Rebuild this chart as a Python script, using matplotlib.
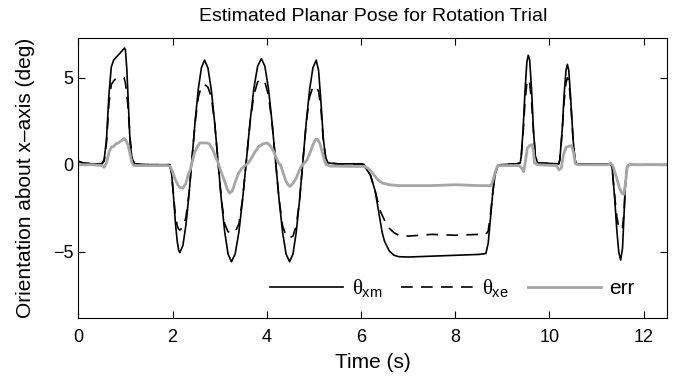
import matplotlib
matplotlib.use('Agg')
import matplotlib.pyplot as plt

# Dati (tempo in s, angolo in gradi)
t_xm = [0.0, 0.1, 0.3, 0.5, 0.55, 0.6, 0.65, 0.7, 0.75, 0.8, 0.85, 0.9, 0.95, 0.98,
        1.0, 1.03, 1.07, 1.1, 1.15, 1.2, 1.5, 1.94, 1.98, 2.02, 2.06, 2.1, 2.13,
        2.155, 2.221, 2.286, 2.352, 2.418, 2.483, 2.549, 2.614,
        2.68, 2.751, 2.823, 2.894, 2.965, 3.036, 3.108, 3.179,
        3.25, 3.329, 3.409, 3.488, 3.568, 3.647, 3.726, 3.806,
        3.885, 3.96, 4.035, 4.11, 4.185, 4.26, 4.335, 4.41,
        4.485, 4.556, 4.626, 4.697, 4.768, 4.838, 4.909, 4.979,
        5.05, 5.1, 5.15, 5.2, 5.25, 5.3, 5.5, 6.0, 6.07, 6.1, 6.2, 6.3, 6.35, 6.4,
        6.45, 6.5, 6.6, 6.7, 6.8, 7.0, 7.5, 8.0, 8.5, 8.65, 8.7, 8.75, 8.8, 8.85,
        8.9, 8.95, 9.3, 9.38, 9.4, 9.44, 9.48, 9.52, 9.55, 9.58, 9.62, 9.66, 9.7,
        9.75, 10.2, 10.22, 10.27, 10.31, 10.35, 10.38, 10.41, 10.45, 10.5, 10.54,
        10.58, 11.3, 11.33, 11.38, 11.43, 11.47, 11.51, 11.55, 11.58, 11.61, 11.64,
        11.68, 12.5]
theta_xm = [0.2, 0.1, 0.05, 0.05, 0.3, 1.5, 4.0, 5.6, 6.0, 6.15, 6.3, 6.45, 6.6, 6.7,
            6.6, 5.5, 3.0, 1.2, 0.2, 0.05, 0.0, 0.0, -0.5, -1.8, -3.3, -4.4, -4.9,
            -5.05, -4.63, -3.43, -1.64, 0.48, 2.59, 4.38, 5.58,
            6.0, 5.56, 4.3, 2.43, 0.22, -2.0, -3.87, -5.13,
            -5.57, -5.13, -3.86, -1.97, 0.26, 2.49, 4.38, 5.65,
            6.09, 5.65, 4.38, 2.49, 0.26, -1.97, -3.86, -5.13,
            -5.57, -5.13, -3.87, -2.0, 0.22, 2.43, 4.3, 5.56,
            6.0, 5.4, 3.6, 1.5, 0.4, 0.1, 0.05, 0.05, 0.0, -0.2, -0.6, -1.5, -2.3, -3.1,
            -3.9, -4.4, -4.95, -5.2, -5.28, -5.3, -5.25, -5.2, -5.15, -5.1, -4.5, -3.0, -1.5, -0.5,
            -0.1, 0.0, 0.05, 0.1, 0.5, 2.0, 4.2, 5.9, 6.28, 6.0, 4.3, 2.0, 0.5,
            0.1, 0.05, 0.3, 2.0, 4.0, 5.4, 5.76, 5.4, 3.8, 1.5, 0.3,
            0.05, 0.05, -0.2, -1.8, -3.8, -5.0, -5.47, -4.8, -3.0, -1.2, -0.2,
            0.0, 0.0]

t_xe = [0.0, 0.1, 0.3, 0.5, 0.55, 0.6, 0.65, 0.7, 0.75, 0.8, 0.9, 0.97, 1.0, 1.05,
        1.1, 1.15, 1.2, 1.5, 1.94, 1.98, 2.02, 2.06, 2.1, 2.13,
        2.155, 2.221, 2.286, 2.352, 2.418, 2.483, 2.549, 2.614,
        2.68, 2.751, 2.823, 2.894, 2.965, 3.036, 3.108, 3.179,
        3.25, 3.329, 3.409, 3.488, 3.568, 3.647, 3.726, 3.806,
        3.885, 3.96, 4.035, 4.11, 4.185, 4.26, 4.335, 4.41,
        4.485, 4.556, 4.626, 4.697, 4.768, 4.838, 4.909, 4.979,
        5.05, 5.1, 5.15, 5.2, 5.25, 5.3, 5.5, 6.0, 6.07, 6.1, 6.2, 6.3, 6.4, 6.5,
        6.6, 6.7, 6.8, 7.0, 7.5, 8.0, 8.5, 8.65, 8.7, 8.75, 8.8, 8.85, 8.9, 8.95,
        9.3, 9.38, 9.4, 9.44, 9.48, 9.52, 9.55, 9.58, 9.62, 9.66, 9.7, 9.75,
        10.2, 10.22, 10.27, 10.31, 10.35, 10.38, 10.41, 10.45, 10.5, 10.54, 10.58,
        11.3, 11.33, 11.38, 11.43, 11.47, 11.51, 11.55, 11.58, 11.61, 11.64, 11.68, 12.5]
theta_xe = [0.2, 0.1, 0.05, 0.05, 0.2, 1.3, 3.5, 4.6, 4.8, 4.95, 5.0, 5.0, 4.7, 3.5,
            1.5, 0.3, 0.05, 0.0, 0.0, -0.5, -1.7, -2.9, -3.5, -3.7,
            -3.75, -3.6, -3.0, -1.6, 0.48, 2.5, 3.9, 4.5,
            4.6, 4.45, 3.9, 2.4, 0.22, -2.0, -3.4, -3.85,
            -3.93, -3.85, -3.4, -1.95, 0.26, 2.45, 4.0, 4.75,
            4.9, 4.75, 4.0, 2.45, 0.26, -1.95, -3.5, -4.1,
            -4.2, -4.1, -3.5, -2.0, 0.22, 2.4, 3.9, 4.45,
            4.5, 4.2, 3.2, 1.4, 0.4, 0.1, 0.05, 0.05, 0.0, -0.15, -0.6, -1.5, -2.6, -3.2,
            -3.65, -3.9, -4.05, -4.1, -4.0, -4.05, -4.0, -4.0, -3.8, -2.8, -1.5, -0.5, -0.1, 0.0,
            0.05, 0.1, 0.4, 1.8, 3.6, 4.7, 4.9, 4.7, 3.6, 1.9, 0.5, 0.1,
            0.05, 0.3, 1.9, 3.6, 4.7, 5.0, 4.8, 3.6, 1.5, 0.3, 0.05,
            0.05, -0.2, -1.7, -3.0, -3.6, -3.75, -3.6, -2.8, -1.2, -0.2, 0.0, 0.0]

t_err = [0.0, 0.3, 0.5, 0.55, 0.6, 0.65, 0.7, 0.75, 0.8, 0.85, 0.9, 0.95, 0.98, 1.02,
         1.06, 1.1, 1.14, 1.18, 1.5, 1.9, 1.95, 2.0, 2.05, 2.1, 2.15, 2.22, 2.28,
         2.33, 2.37, 2.42, 2.47, 2.52, 2.58, 2.65, 2.72, 2.78, 2.85, 2.92, 2.97,
         3.03, 3.1, 3.16, 3.21, 3.27, 3.33, 3.4, 3.47, 3.54, 3.59, 3.65, 3.72, 3.78,
         3.84, 3.92, 4.01, 4.07, 4.14, 4.2, 4.25, 4.29, 4.34, 4.4, 4.45, 4.49, 4.55,
         4.62, 4.68, 4.73, 4.8, 4.86, 4.92, 4.98, 5.04, 5.08, 5.13, 5.18, 5.22, 5.26,
         5.35, 5.8, 6.07, 6.15, 6.25, 6.35, 6.45, 6.6, 6.8, 7.5, 8.0, 8.5, 8.76, 8.8,
         8.85, 8.9, 9.0, 9.36, 9.41, 9.45, 9.49, 9.53, 9.58, 9.63, 9.66, 9.68, 9.75,
         10.15, 10.2, 10.25, 10.3, 10.35, 10.4, 10.47, 10.51, 10.55, 10.6, 11.25,
         11.3, 11.35, 11.42, 11.48, 11.54, 11.58, 11.62, 11.65, 11.7, 12.5]
err = [0.0, 0.0, -0.05, -0.15, 0.1, 0.7, 1.0, 1.05, 1.2, 1.25, 1.35, 1.45, 1.5, 1.35,
       1.1, 0.6, 0.1, -0.05, -0.05, -0.05, -0.1, -0.4, -0.8, -1.1, -1.3, -1.34, -1.1,
       -0.6, -0.35, 0.2, 0.7, 1.0, 1.25, 1.25, 1.25, 1.2, 0.9, 0.4, 0.1,
       -0.4, -0.9, -1.4, -1.63, -1.5, -1.0, -0.5, -0.2, -0.05, 0.05, 0.25, 0.6, 0.85,
       1.06, 1.2, 1.25, 1.1, 0.8, 0.4, 0.1, 0.0, -0.4, -0.9, -1.15, -1.25, -1.1,
       -0.8, -0.4, -0.1, 0.1, 0.3, 0.7, 1.15, 1.45, 1.45, 1.2, 0.7, 0.3, 0.0,
       -0.08, -0.1, -0.1, -0.2, -0.5, -0.85, -1.05, -1.15, -1.2, -1.2, -1.15, -1.2, -1.2, -0.9,
       -0.4, -0.05, -0.05, -0.05, -0.2, -0.4, 0.2, 0.96, 1.1, 1.15, 0.8, 0.1, 0.0,
       -0.05, -0.3, -0.2, 0.6, 1.0, 1.05, 1.1, 0.7, 0.05, 0.0, 0.0,
       0.1, -0.1, -0.7, -1.3, -1.65, -1.7, -0.9, -0.1, 0.0, 0.0]

plt.rcParams['font.family'] = ['Liberation Sans', 'DejaVu Sans']
plt.rcParams['mathtext.fontset'] = 'custom'
plt.rcParams['mathtext.rm'] = 'Liberation Sans'
plt.rcParams['mathtext.it'] = 'Liberation Serif'
plt.rcParams['mathtext.bf'] = 'Liberation Sans:bold'

fig = plt.figure(figsize=(6.76, 3.82), dpi=100)
ax = fig.add_axes([0.1158, 0.1675, 0.8713, 0.7343])

ax.plot(t_xm, theta_xm, color='black', lw=1.2, label=r'$\theta_{\rm xm}$')
ax.plot(t_xe, theta_xe, color='black', lw=1.2, dashes=(7, 5), label=r'$\theta_{\rm xe}$')
ax.plot(t_err, err, color='#a6a6a6', lw=2.0, label='err')

ax.set_xlim(0, 12.5)
ax.set_ylim(-8.8, 7.3)
ax.set_xticks([0, 2, 4, 6, 8, 10, 12])
ax.set_yticks([-5, 0, 5])
ax.tick_params(direction='in', top=True, right=True, length=5, labelsize=13)
ax.tick_params(axis='x', pad=8)

ax.set_title('Estimated Planar Pose for Rotation Trial', fontsize=14, pad=12)
ax.set_xlabel('Time (s)', fontsize=15, labelpad=5)
ax.set_ylabel('Orientation about x\u2013axis (deg)', fontsize=15, labelpad=13)

ax.legend(loc='lower center', bbox_to_anchor=(0.635, 0.0), ncol=3, frameon=False,
          fontsize=15, handlelength=3.5, handletextpad=0.4, columnspacing=0.9)

fig.savefig('out.png', dpi=100)
